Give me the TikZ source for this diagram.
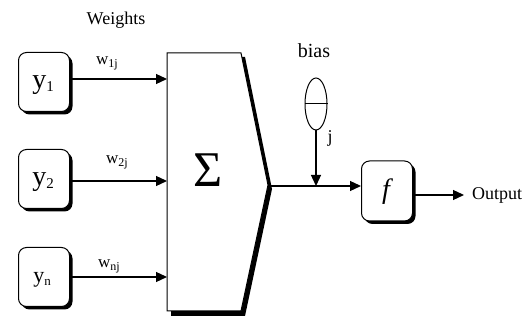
\documentclass[tikz,border=0pt]{standalone}
\usepackage{fontspec}
\setmainfont{Liberation Serif}
\usetikzlibrary{arrows.meta,shadows,shapes.geometric}
\newcommand{\mysub}[2]{{\fontsize{#1}{#1}\selectfont\raisebox{-0.18em}{#2}}}
\begin{document}
\begin{tikzpicture}[x=1pt,y=-1pt,
  inbox/.style={draw, line width=1pt, rounded corners=8pt, minimum width=51pt, minimum height=59pt,
    fill=white, inner sep=0pt, drop shadow={shadow xshift=3pt, shadow yshift=-3pt, fill=black, opacity=1}},
  arr/.style={line width=1.3pt, -{Triangle[length=11pt,width=10pt]}},
  lbl/.style={font=\fontsize{18}{20}\selectfont, inner sep=0pt},
  wlbl/.style={font=\fontsize{17}{19}\selectfont, inner sep=0pt, anchor=base},
  ylbl/.style={font=\fontsize{28}{30}\selectfont, inner sep=0pt, anchor=base},
]
\useasboundingbox (0,0) rectangle (528,320);
% input boxes
\node[inbox] (y1) at (44,82) {};
\node[inbox] (y2) at (44,179) {};
\node[inbox] (yn) at (44,277) {};
\node[ylbl] (t1) at (43,89) {y\mysub{15}{1}};
\node[ylbl] (t2) at (43,186) {y\mysub{15}{2}};
\node[ylbl, font=\fontsize{22}{24}\selectfont] (tn) at (42,283) {y\mysub{13}{n}};
\node[lbl, anchor=base] (weights) at (116,25) {Weights};
% summation block
\fill[black] (171,57) -- (245,57) -- (272,189) -- (245,316) -- (171,316) -- cycle;
\draw[line width=1pt, fill=white] (167,53) -- (241,53) -- (268,185) -- (241,311) -- (167,311) -- cycle;
\coordinate (sigL) at (167,0);
\coordinate (sigTip) at (268,186);
\node[font=\fontsize{50}{52}\selectfont, inner sep=0pt] (sigma) at (208,170) {Σ};
% weight arrows
\draw[arr] (y1.east |- 0,79) -- (sigL |- 0,79);
\draw[arr] (y2.east |- 0,181) -- (sigL |- 0,181);
\draw[arr] (yn.east |- 0,277) -- (sigL |- 0,277);
\node[wlbl] (w1) at (107,65) {w\mysub{12}{1j}};
\node[wlbl] (w2) at (117,164) {w\mysub{12}{2j}};
\node[wlbl] (wn) at (109,268) {w\mysub{12}{nj}};
% bias
\node[lbl, anchor=base, font=\fontsize{20}{22}\selectfont] (bias) at (314,58) {bias};
\node[draw, line width=1pt, ellipse, minimum width=22pt, minimum height=52pt, inner sep=0pt] (bnode) at (316,104) {};
\draw[line width=1pt] (bnode.west) -- (bnode.east);
\coordinate (join) at (316,186);
\draw[arr] (bnode.south) -- (join);
\node[lbl, anchor=base] (j) at (330,143) {j};
% activation
\node[inbox, minimum height=60pt, minimum width=51pt] (f) at (387,191) {};
\node[font=\fontsize{28}{30}\selectfont\itshape] (ft) at (386,192) {f};
\draw[arr] (sigTip) -- (f.west |- sigTip);
\node[lbl, anchor=west, inner xsep=8pt] (out) at (464,195) {Output};
\draw[arr] (f.east |- out.west) -- (out.west);
\end{tikzpicture}
\end{document}
